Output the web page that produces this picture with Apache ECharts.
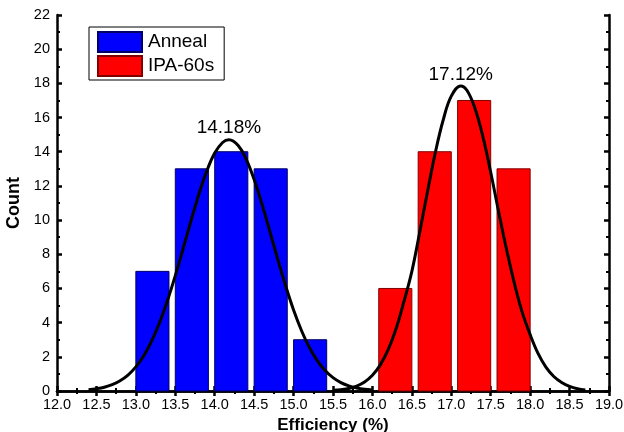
<!DOCTYPE html>
<html>
<head>
<meta charset="utf-8">
<script src="https://cdn.jsdelivr.net/npm/echarts@6/dist/echarts.min.js"></script>
<style>
html, body { margin: 0; padding: 0; background: #fff; }
#main { width: 624px; height: 432px; }
</style>
</head>
<body>
<div id="main"></div>
<script>
// histogram bins (left edge, right edge, count)
var annealStart = [13.0, 13.5, 14.0, 14.5, 15.0];
var annealEnd = [13.42, 13.92, 14.42, 14.92, 15.42];
var annealCount = [7, 13, 14, 13, 3];

var ipaStart = [16.08, 16.58, 17.08, 17.58];
var ipaEnd = [16.5, 17.0, 17.5, 18.0];
var ipaCount = [6, 14, 17, 13];

// fitted curves
var annealFitX = [12.4, 12.5, 12.6, 12.7, 12.8, 12.9, 13.0, 13.1, 13.2, 13.3, 13.4, 13.5, 13.6, 13.7, 13.8, 13.9, 14.0, 14.1, 14.18, 14.3, 14.4, 14.5, 14.6, 14.7, 14.8, 14.9, 15.0, 15.1, 15.2, 15.3, 15.4, 15.5, 15.6, 15.7, 15.8, 15.9, 16.0];
var annealFitY = [0.07, 0.13, 0.22, 0.37, 0.6, 0.93, 1.41, 2.06, 2.92, 3.99, 5.28, 6.75, 8.34, 9.97, 11.53, 12.88, 13.92, 14.54, 14.7, 14.35, 13.55, 12.37, 10.92, 9.33, 7.7, 6.14, 4.74, 3.54, 2.55, 1.78, 1.2, 0.78, 0.49, 0.3, 0.18, 0.1, 0.06];

var ipaFitX = [15.5, 15.6, 15.7, 15.8, 15.9, 16.0, 16.1, 16.2, 16.3, 16.4, 16.5, 16.6, 16.7, 16.8, 16.9, 17.0, 17.12, 17.2, 17.3, 17.4, 17.5, 17.6, 17.7, 17.8, 17.9, 18.0, 18.1, 18.2, 18.3, 18.4, 18.5, 18.6, 18.7];
var ipaFitY = [0.04, 0.08, 0.15, 0.29, 0.53, 0.92, 1.53, 2.42, 3.64, 5.24, 7.0, 9.3, 11.7, 14.0, 15.9, 17.25, 17.85, 17.58, 16.55, 14.9, 12.8, 10.5, 8.3, 6.3, 4.6, 3.3, 2.2, 1.4, 0.85, 0.5, 0.27, 0.13, 0.06];

var peakX = [14.18, 17.12];
var peakY = [14.7, 17.85];
var peakText = ['14.18%', '17.12%'];

function bins(s, e, c) {
  return s.map(function (v, i) { return [v, e[i], c[i]]; });
}
function pts(xs, ys) {
  return xs.map(function (v, i) { return [v, ys[i]]; });
}

var chart = echarts.init(document.getElementById('main'));

function barRender(fill, stroke) {
  return function (params, api) {
    var p0 = api.coord([api.value(0), api.value(2)]);
    var p1 = api.coord([api.value(1), 0]);
    return {
      type: 'rect',
      shape: { x: p0[0], y: p0[1], width: p1[0] - p0[0], height: p1[1] - p0[1] },
      style: { fill: fill, stroke: stroke, lineWidth: 1 }
    };
  };
}

var axisFont = { fontFamily: 'Liberation Sans, Arial', fontSize: 14.5, color: '#000' };
var lineStyle = { color: '#000', width: 2.5 };
var minor = { show: true, splitNumber: 2, length: 3, lineStyle: { color: '#000', width: 2 } };

var option = {
  animation: false,
  textStyle: { fontFamily: 'Liberation Sans, Arial' },
  grid: { left: 57, right: 15, top: 15, bottom: 41, outerBoundsMode: 'none', containLabel: false },
  legend: {
    data: ['Anneal', 'IPA-60s'],
    orient: 'vertical',
    left: 89,
    top: 27,
    padding: [4, 10, 3, 8],
    itemGap: 2,
    itemWidth: 44,
    itemHeight: 20,
    icon: 'rect',
    backgroundColor: '#fff',
    borderColor: '#000',
    borderWidth: 1,
    borderRadius: 0,
    textStyle: { fontSize: 19, color: '#000', padding: [0, 0, 0, 1] }
  },
  xAxis: [{
    type: 'value', min: 12, max: 19, interval: 0.5,
    name: 'Efficiency (%)', nameLocation: 'middle', nameGap: 23,
    nameTextStyle: { fontSize: 17, fontWeight: 'bold', color: '#000' },
    axisLine: { lineStyle: lineStyle },
    axisTick: { inside: true, length: 5, lineStyle: lineStyle },
    minorTick: minor,
    axisLabel: Object.assign({ margin: 6, formatter: function (v) { return v.toFixed(1); } }, axisFont),
    splitLine: { show: false }
  }, {
    type: 'value', min: 12, max: 19, interval: 0.5, position: 'top',
    axisLine: { lineStyle: lineStyle },
    axisTick: { inside: true, length: 5, lineStyle: lineStyle },
    minorTick: minor,
    axisLabel: { show: false },
    splitLine: { show: false }
  }],
  yAxis: [{
    type: 'value', min: 0, max: 22, interval: 2,
    name: 'Count', nameLocation: 'middle', nameGap: 8,
    nameTextStyle: { fontSize: 18, fontWeight: 'bold', color: '#000' },
    axisLine: { show: true, lineStyle: lineStyle },
    axisTick: { show: true, inside: true, length: 5, lineStyle: lineStyle },
    minorTick: minor,
    axisLabel: Object.assign({ margin: 7 }, axisFont),
    splitLine: { show: false }
  }, {
    type: 'value', min: 0, max: 22, interval: 2, position: 'right',
    axisLine: { show: true, lineStyle: lineStyle },
    axisTick: { show: true, inside: true, length: 5, lineStyle: lineStyle },
    minorTick: minor,
    axisLabel: { show: false },
    splitLine: { show: false }
  }],
  series: [{
    name: 'Anneal', type: 'custom',
    renderItem: barRender('#0000ff', '#000066'),
    itemStyle: { color: '#0000ff', borderColor: '#000066', borderWidth: 1 },
    encode: { x: [0, 1], y: 2 },
    data: bins(annealStart, annealEnd, annealCount),
    z: 2
  }, {
    name: 'IPA-60s', type: 'custom',
    renderItem: barRender('#ff0000', '#800000'),
    itemStyle: { color: '#ff0000', borderColor: '#800000', borderWidth: 1 },
    encode: { x: [0, 1], y: 2 },
    data: bins(ipaStart, ipaEnd, ipaCount),
    z: 2
  }, {
    name: 'Anneal fit', type: 'line', smooth: 0.4, showSymbol: false,
    lineStyle: { color: '#000', width: 3 },
    data: pts(annealFitX, annealFitY),
    z: 3
  }, {
    name: 'IPA fit', type: 'line', smooth: 0.4, showSymbol: false,
    lineStyle: { color: '#000', width: 3 },
    data: pts(ipaFitX, ipaFitY),
    z: 3
  }, {
    name: 'peaks', type: 'scatter', symbolSize: 0,
    itemStyle: { opacity: 1 },
    data: pts(peakX, peakY),
    label: {
      show: true, position: 'top', distance: 2,
      fontSize: 19, color: '#000', opacity: 1,
      formatter: function (p) { return peakText[p.dataIndex]; }
    },
    z: 4
  }]
};

chart.setOption(option);
</script>
</body>
</html>
